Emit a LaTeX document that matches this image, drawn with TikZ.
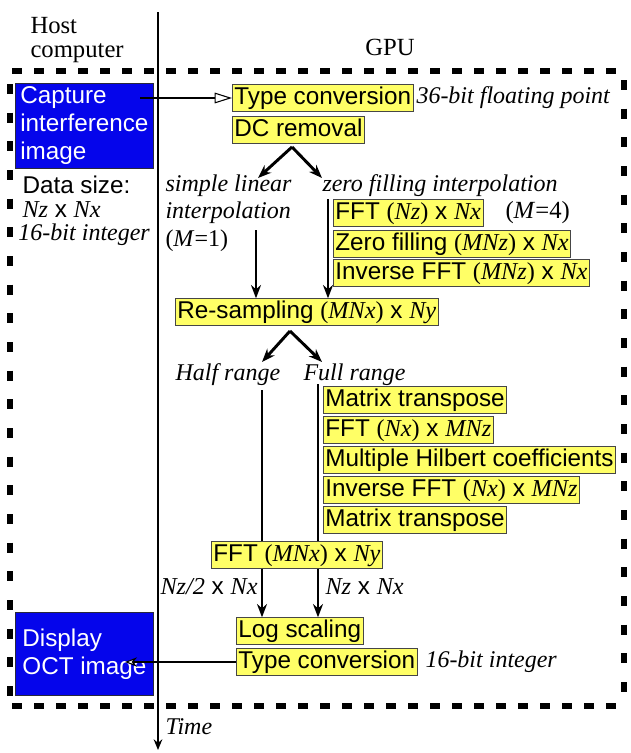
\documentclass[tikz,border=0pt]{standalone}
\usepackage{fontspec}
\setmainfont{Liberation Serif}
\setsansfont{Liberation Sans}
\usetikzlibrary{arrows.meta}
\newcommand{\tvar}[1]{{\rmfamily\itshape #1}}
\newcommand{\tprn}[1]{{\rmfamily(\textit{#1})}}
\tikzset{every picture/.style={line width=0.75pt}}
\tikzset{
  gpubox/.style={draw={rgb, 255:red, 70; green, 70; blue, 70}, line width=0.6pt, fill={rgb, 255:red, 255; green, 255; blue, 102}, anchor=west, inner xsep=1.5pt, inner ysep=1.2pt, text height=13.5pt, text depth=4pt, font=\sffamily\fontsize{18.2}{21}\selectfont},
  hostbox/.style={draw={rgb, 255:red, 40; green, 40; blue, 60}, line width=0.6pt, fill={rgb, 255:red, 5; green, 5; blue, 235}, text=white, anchor=north west, align=left, inner sep=2pt, font=\sffamily\fontsize{18.2}{21}\selectfont},
  note/.style={anchor=west, inner sep=0pt, align=left, font=\rmfamily\itshape\fontsize{18}{20.5}\selectfont},
  plain/.style={anchor=west, inner sep=0pt, align=left, font=\rmfamily\fontsize{18.5}{18.5}\selectfont},
  sflabel/.style={anchor=west, inner sep=0pt, font=\sffamily\fontsize{18.2}{21}\selectfont},
  flow/.style={line width=2.2pt, -{Stealth[length=10pt,width=7.5pt]}},
  bar/.style={line width=2.2pt},
  hdash/.style={line width=3.9pt, dash pattern=on 7.5pt off 9pt},
  vdash/.style={line width=3.9pt, dash pattern=on 7.5pt off 14pt},
}

\begin{document}
\begin{tikzpicture}[x=0.75pt,y=0.75pt,yscale=-1,xscale=1]
\useasboundingbox (0,0) rectangle (631,753);

%GPU frame
\draw[hdash] (12,71) -- (627,71);
\draw[hdash] (12,706) -- (627,706);
\draw[vdash] (10,84) -- (10,700);
\draw[vdash] (624,80) -- (624,700);

%time axis
\coordinate (tTop) at (158,12);
\coordinate (tEnd) at (158,750);
\draw[line width=2.2pt, -{Stealth[length=8pt,width=6.5pt]}] (tTop) -- (tEnd);
\node[note] (time) at (165,727) {Time};

% Text Node
\node[plain, align=left] (host) at (30,40) {Host\\computer};
\node[plain, anchor=center] (gpu) at (390,47) {GPU};

%host side
\node[hostbox, minimum width=103.5pt, minimum height=63.75pt] (capture) at (15,83) {Capture\\interference\\image};
\node[sflabel] (datasize) at (22,185) {Data size:};
\node[sflabel] (rawsize) at (22,210) {\tvar{Nz} x \tvar{Nx}};
\node[note] (rawtype) at (18,235) {16-bit integer};
\node[hostbox, minimum width=103.5pt, minimum height=62.25pt] (display) at (15,612) {Display\\OCT image};

%GPU steps
\node[gpubox] (tc1) at (232,98) {Type conversion};
\node[note] (float36) at (416,98) {36-bit floating point};
\node[gpubox] (dc) at (232,130) {DC removal};
\node[note] (simple) at (165,213) {simple linear\\interpolation\\{\upshape(\textit{M}=1)}};
\node[note] (zerofill) at (322,186) {zero filling interpolation};
\node[gpubox] (fftnz) at (333,213) {FFT \tprn{Nz} x \tvar{Nx}};
\node[plain] (mfour) at (505,213) {(\textit{M}=4)};
\node[gpubox] (zf) at (333,244) {Zero filling \tprn{MNz} x \tvar{Nx}};
\node[gpubox] (ifftz) at (333,273) {Inverse FFT \tprn{MNz} x \tvar{Nx}};
\node[gpubox] (resamp) at (175,312) {Re-sampling \tprn{MNx} x \tvar{Ny}};
\node[note] (half) at (175,375) {Half range};
\node[note] (full) at (303,375) {Full range};
\node[gpubox] (mtone) at (323,400) {Matrix transpose};
\node[gpubox] (fftnx) at (323,430) {FFT \tprn{Nx} x \tvar{MNz}};
\node[gpubox] (hilb) at (323,460) {Multiple Hilbert coefficients};
\node[gpubox] (ifftx) at (323,490) {Inverse FFT \tprn{Nx} x \tvar{MNz}};
\node[gpubox] (mttwo) at (323,520) {Matrix transpose};
\node[gpubox] (fftmnx) at (211,555) {FFT \tprn{MNx} x \tvar{Ny}};
\node[sflabel] (halfsize) at (160,587) {\tvar{Nz/2} x \tvar{Nx}};
\node[sflabel] (fullsize) at (325,587) {\tvar{Nz} x \tvar{Nx}};
\node[gpubox] (logs) at (236,631) {Log scaling};
\node[gpubox] (tc2) at (236,662) {Type conversion};
\node[note] (int16) at (425,662) {16-bit integer};

%connectors
\coordinate (capStart) at (140,98);
\draw[line width=2.2pt, -{Triangle[open,length=13pt,width=8pt,line width=0.8pt]}] (capStart) -- (tc1.west);

\coordinate (sp1) at (292,147);
\coordinate (lftEnd) at (258,178);
\coordinate (rgtEnd) at (322,178);
\draw[flow] (sp1) -- (lftEnd);
\draw[flow] (sp1) -- (rgtEnd);

\coordinate (lftTop) at (256,230);
\coordinate (rgtTop) at (328,199);
\draw[flow] (lftTop) -- (lftTop |- resamp.north);
\draw[flow] (rgtTop) -- (rgtTop |- resamp.north);

\coordinate (sp2) at (290,331);
\coordinate (halfEnd) at (262,362);
\coordinate (fullEnd) at (322,362);
\draw[flow] (sp2) -- (halfEnd);
\draw[flow] (sp2) -- (fullEnd);

\coordinate (halfTop) at (262,390);
\coordinate (fullTop) at (318,384);
\draw[bar] (halfTop) -- (halfTop |- fftmnx.north);
\draw[bar] (fullTop) -- (fullTop |- fftmnx.north);
\draw[flow] (halfTop |- fftmnx.south) -- (halfTop |- logs.north);
\draw[flow] (fullTop |- fftmnx.south) -- (fullTop |- logs.north);

\coordinate (dispTip) at (125,662);
\draw[line width=2.2pt, -{Stealth[fill=white,length=9pt,width=7pt,line width=0.8pt]}] (tc2.west) -- (dispTip);

\end{tikzpicture}
\end{document}
